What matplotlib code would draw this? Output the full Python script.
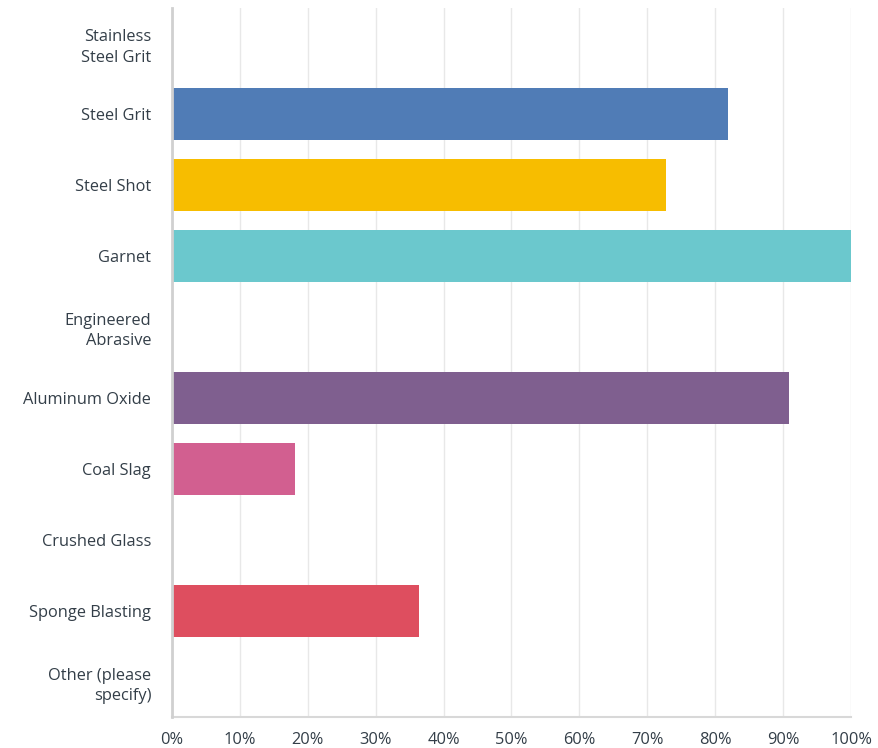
import matplotlib.pyplot as plt

categories = ['Stainless\nSteel Grit', 'Steel Grit', 'Steel Shot', 'Garnet',
              'Engineered\nAbrasive', 'Aluminum Oxide', 'Coal Slag',
              'Crushed Glass', 'Sponge Blasting', 'Other (please\nspecify)']
values = [0, 81.82, 72.73, 100, 0, 90.91, 18.18, 0, 36.36, 0]
colors = ['#507cb6', '#507cb6', '#f7bd00', '#6bc8cd', '#6bc8cd',
          '#7f5f8f', '#d25f90', '#d25f90', '#de4e5f', '#de4e5f']
xticks = list(range(0, 101, 10))
xticklabels = [f'{t}%' for t in xticks]

text_color = '#333e48'
plt.rcParams['font.family'] = ['Open Sans', 'DejaVu Sans']

fig = plt.figure(figsize=(8.79, 7.48), dpi=100)
# axes box in pixels: x 172..851, y 8..717
ax = fig.add_axes([172 / 879, 31 / 748, 679 / 879, 709 / 748])

y = range(len(categories))
ax.barh(y, values, height=0.73, color=colors, linewidth=0, zorder=2)

ax.set_xlim(0, 100)
ax.set_ylim(len(categories) - 0.5, -0.5)
ax.set_yticks(list(y))
ax.set_yticklabels(categories, fontsize=11.8, color=text_color, linespacing=1.35)
ax.set_xticks(xticks)
ax.set_xticklabels(xticklabels, fontsize=11.8, color=text_color)
ax.tick_params(axis='y', length=0, pad=15)
ax.tick_params(axis='x', length=0, pad=11)

ax.set_axisbelow(True)
ax.grid(axis='x', color='#e8e8e8', linewidth=1)
for side in ['top', 'right']:
    ax.spines[side].set_visible(False)
ax.spines['left'].set_color('#d0d0d0')
ax.spines['left'].set_linewidth(2)
ax.spines['left'].set_zorder(3)
ax.spines['bottom'].set_color('#d8d8d8')
ax.spines['bottom'].set_linewidth(1.5)

fig.savefig('out.png', dpi=100, facecolor='white')
